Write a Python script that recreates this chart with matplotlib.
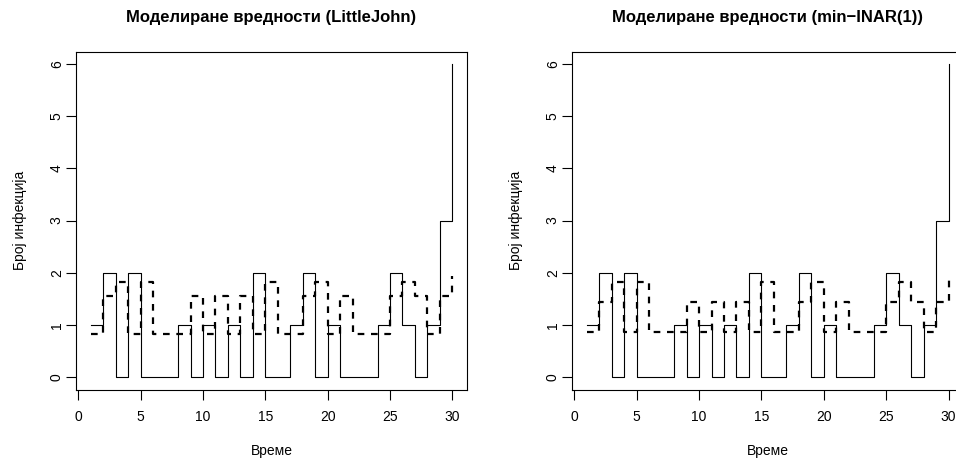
import matplotlib
matplotlib.use("Agg")
import matplotlib.pyplot as plt
import numpy as np

plt.rcParams['font.family'] = ['Liberation Sans', 'DejaVu Sans']

# податоци
vreme = np.arange(1, 31)
opazeno = [1, 2, 0, 2, 0, 0, 0, 1, 0, 1, 0, 1, 0, 2, 0, 0, 1, 2, 0, 1,
           0, 0, 0, 1, 2, 1, 0, 1, 3, 6]
fit_littlejohn = [0.83, 1.55, 1.83, 0.83, 1.83, 0.83, 0.83, 0.83, 1.55, 0.83,
                  1.55, 0.83, 1.55, 0.83, 1.83, 0.83, 0.83, 1.55, 1.83, 0.83,
                  1.55, 0.83, 0.83, 0.83, 1.55, 1.83, 1.55, 0.83, 1.55, 1.94]
fit_mininar = [0.86, 1.43, 1.82, 0.86, 1.82, 0.86, 0.86, 0.86, 1.43, 0.86,
               1.43, 0.86, 1.43, 0.86, 1.82, 0.86, 0.86, 1.43, 1.82, 0.86,
               1.43, 0.86, 0.86, 0.86, 1.43, 1.82, 1.43, 0.86, 1.43, 1.92]

naslovi = ['Моделиране вредности (LittleJohn)', 'Моделиране вредности (min\u2212INAR(1))']
xticks = [0, 5, 10, 15, 20, 25, 30]
yticks = [0, 1, 2, 3, 4, 5, 6]

W, H = 956, 462
fig = plt.figure(figsize=(W / 100, H / 100), dpi=100)

# позиции во пиксели (лево, десно)
paneli = [(76.3, 466.8), (572.3, 963.0)]
top_px, bot_px = 51.5, 389.5

for (l, r), naslov, fit in zip(paneli, naslovi, [fit_littlejohn, fit_mininar]):
    ax = fig.add_axes([l / W, (H - bot_px) / H, (r - l) / W, (bot_px - top_px) / H])
    ax.plot(vreme, opazeno, drawstyle='steps-post', color='black', lw=0.8)
    ax.plot(vreme, fit, drawstyle='steps-post', color='black', lw=1.6,
            linestyle=(0, (3, 3)))
    ax.set_xlim(1 - 0.04 * 29, 30 + 0.04 * 29)
    ax.set_ylim(-0.24, 6.24)
    ax.set_xticks(xticks)
    ax.set_yticks(yticks)
    ax.tick_params(direction='out', length=7, width=0.8, labelsize=10)
    ax.tick_params(axis='x', pad=8)
    ax.tick_params(axis='y', labelrotation=90, pad=2)
    for lab in ax.get_yticklabels():
        lab.set_va('center')
    for s in ax.spines.values():
        s.set_linewidth(0.8)
    ax.set_title(naslov, fontsize=12, fontweight='bold', pad=21)
    ax.set_xlabel('Време', fontsize=10)
    ax.set_ylabel('Број инфекција', fontsize=10)
    ax.xaxis.set_label_coords(0.5, -0.16)
    ax.yaxis.set_label_coords(-0.125, 0.5)

fig.savefig('out.png', dpi=100)
